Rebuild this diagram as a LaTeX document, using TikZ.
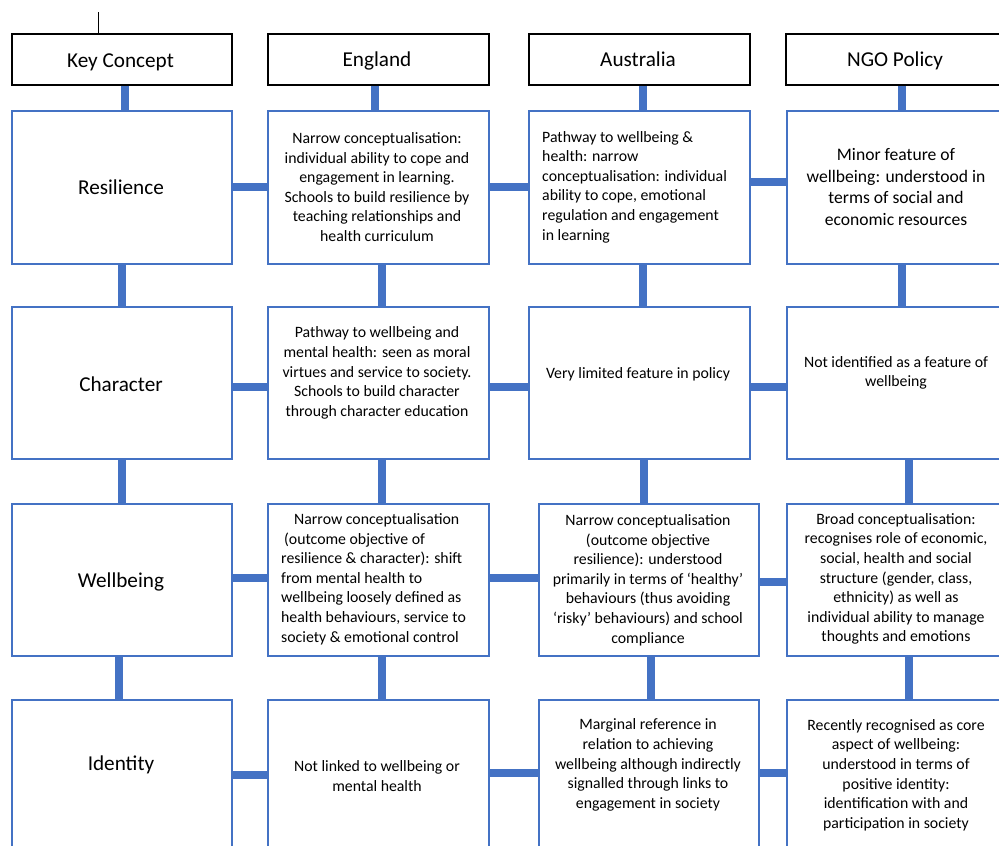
\documentclass[tikz,border=0pt]{standalone}
\usepackage{fontspec}
\setmainfont{Carlito}
\definecolor{ablue}{HTML}{4472C4}
\tikzset{
  hdr/.style={draw=black, line width=1.8pt, fill=white, inner sep=0pt, anchor=north west},
  cell/.style={draw=ablue, line width=1.6pt, fill=white, inner sep=0pt, anchor=north west},
  conn/.style={draw=ablue, line width=7.5pt},
  big/.style={font=\fontsize{21.2}{25}\selectfont, inner sep=0pt, anchor=base},
  txt/.style={font=\fontsize{15.8}{19.6}\selectfont, align=center, inner sep=0pt},
  txtl/.style={font=\fontsize{15.8}{19.6}\selectfont, align=left, inner sep=0pt, anchor=west},
  txtb/.style={font=\fontsize{17.6}{21.8}\selectfont, align=center, inner sep=0pt},
}
\begin{document}
\begin{tikzpicture}[x=1pt, y=-1pt]
\useasboundingbox (0,0) rectangle (999,846);
\clip (0,0) rectangle (999,846);
\fill[white] (0,0) rectangle (999,846);
% stray mark
\coordinate (m1) at (98,12);
\coordinate (m2) at (98,37);
\draw[black, line width=0.8pt] (m1) -- (m2);
% headers
\node[hdr, minimum width=220, minimum height=51] (hk) at (11,33) {};
\node[hdr, minimum width=221, minimum height=51] (he) at (267,33) {};
\node[hdr, minimum width=221, minimum height=51] (ha) at (528,33) {};
\node[hdr, minimum width=240, minimum height=51] (hn) at (785,33) {};
% row 1
\node[cell, minimum width=220, minimum height=153] (k1) at (11,110) {};
\node[cell, minimum width=221, minimum height=153] (e1) at (267,110) {};
\node[cell, minimum width=221, minimum height=153] (a1) at (528,110) {};
\node[cell, minimum width=240, minimum height=153] (n1) at (786,110) {};
% row 2
\node[cell, minimum width=220, minimum height=152] (k2) at (11,306) {};
\node[cell, minimum width=221, minimum height=152] (e2) at (267,306) {};
\node[cell, minimum width=221, minimum height=152] (a2) at (528,306) {};
\node[cell, minimum width=240, minimum height=152] (n2) at (786,306) {};
% row 3
\node[cell, minimum width=220, minimum height=152] (k3) at (11,503) {};
\node[cell, minimum width=221, minimum height=152] (e3) at (267,503) {};
\node[cell, minimum width=220, minimum height=152] (a3) at (538,503) {};
\node[cell, minimum width=240, minimum height=152] (n3) at (786,503) {};
% row 4
\node[cell, minimum width=220, minimum height=180] (k4) at (11,699) {};
\node[cell, minimum width=221, minimum height=180] (e4) at (267,699) {};
\node[cell, minimum width=220, minimum height=180] (a4) at (538,699) {};
\node[cell, minimum width=240, minimum height=180] (n4) at (786,699) {};
% vertical connectors
\draw[conn] (hk.south -| 125,0) -- (k1.north -| 125,0);
\draw[conn] (he.south -| 375,0) -- (e1.north -| 375,0);
\draw[conn] (ha.south -| 643,0) -- (a1.north -| 643,0);
\draw[conn] (hn.south -| 902,0) -- (n1.north -| 902,0);
\draw[conn] (k1.south -| 122,0) -- (k2.north -| 122,0);
\draw[conn] (e1.south -| 382,0) -- (e2.north -| 382,0);
\draw[conn] (a1.south -| 643,0) -- (a2.north -| 643,0);
\draw[conn] (n1.south -| 902,0) -- (n2.north -| 902,0);
\draw[conn] (k2.south -| 122,0) -- (k3.north -| 122,0);
\draw[conn] (e2.south -| 382,0) -- (e3.north -| 382,0);
\draw[conn] (a2.south -| 644,0) -- (a3.north -| 644,0);
\draw[conn] (n2.south -| 909,0) -- (n3.north -| 909,0);
\draw[conn] (k3.south -| 119,0) -- (k4.north -| 119,0);
\draw[conn] (e3.south -| 382,0) -- (e4.north -| 382,0);
\draw[conn] (a3.south -| 651,0) -- (a4.north -| 651,0);
\draw[conn] (n3.south -| 909,0) -- (n4.north -| 909,0);
% horizontal connectors
\draw[conn] (k1.east |- 0,187) -- (e1.west |- 0,187);
\draw[conn] (e1.east |- 0,187) -- (a1.west |- 0,187);
\draw[conn] (a1.east |- 0,182) -- (n1.west |- 0,182);
\draw[conn] (k2.east |- 0,387) -- (e2.west |- 0,387);
\draw[conn] (e2.east |- 0,387) -- (a2.west |- 0,387);
\draw[conn] (a2.east |- 0,387) -- (n2.west |- 0,387);
\draw[conn] (k3.east |- 0,578) -- (e3.west |- 0,578);
\draw[conn] (e3.east |- 0,578) -- (a3.west |- 0,578);
\draw[conn] (a3.east |- 0,582) -- (n3.west |- 0,582);
\draw[conn] (k4.east |- 0,775) -- (e4.west |- 0,775);
\draw[conn] (e4.east |- 0,773) -- (a4.west |- 0,773);
\draw[conn] (a4.east |- 0,773) -- (n4.west |- 0,773);
% header texts
\node[big] (thk) at (120.5,67) {Key Concept};
\node[big] (the) at (377,66) {England};
\node[big] (tha) at (638,66) {Australia};
\node[big] (thn) at (895,66) {NGO Policy};
% key concept texts
\node[big] (tk1) at (121,194) {Resilience};
\node[big] (tk2) at (121,391) {Character};
\node[big] (tk3) at (121,587) {Wellbeing};
\node[big] (tk4) at (121,770) {Identity};
% England texts
\node[txt] (te1) at (377,187) {Narrow conceptualisation:\\individual ability to cope and\\engagement in learning.\\Schools to build resilience by\\teaching relationships and\\health curriculum};
\node[txt] (te2) at (377,373) {Pathway to wellbeing and\\mental health: seen as moral\\virtues and service to society.\\Schools to build character\\through character education};
\node[txtl] (te3) at (281,579) {\hspace*{13pt}Narrow conceptualisation\\\hspace*{3pt}(outcome objective of\\resilience \& character): shift\\from mental health to\\wellbeing loosely defined as\\health behaviours, service to\\society \& emotional control};
\node[txt] (te4) at (377,776) {Not linked to wellbeing or\\mental health};
% Australia texts
\node[txtl] (ta1) at (542,187) {Pathway to wellbeing \&\\health: narrow\\conceptualisation: individual\\ability to cope, emotional\\regulation and engagement\\in learning};
\node[txt] (ta2) at (638,374) {Very limited feature in policy};
\node[txt] (ta3) at (648,580) {Narrow conceptualisation\\(outcome objective\\resilience): understood\\primarily in terms of ‘healthy’\\behaviours (thus avoiding\\‘risky’ behaviours) and school\\compliance};
\node[txt] (ta4) at (648,765) {Marginal reference in\\relation to achieving\\wellbeing although indirectly\\signalled through links to\\engagement in society};
% NGO texts
\node[txtb] (tn1) at (896,187) {Minor feature of\\wellbeing: understood in\\terms of social and\\economic resources};
\node[txt] (tn2) at (896,373) {Not identified as a feature of\\wellbeing};
\node[txt] (tn3) at (896,579) {Broad conceptualisation:\\recognises role of economic,\\social, health and social\\structure (gender, class,\\ethnicity) as well as\\individual ability to manage\\thoughts and emotions};
\node[txt] (tn4) at (896,775) {Recently recognised as core\\aspect of wellbeing:\\understood in terms of\\positive identity:\\identification with and\\participation in society};
\end{tikzpicture}
\end{document}
